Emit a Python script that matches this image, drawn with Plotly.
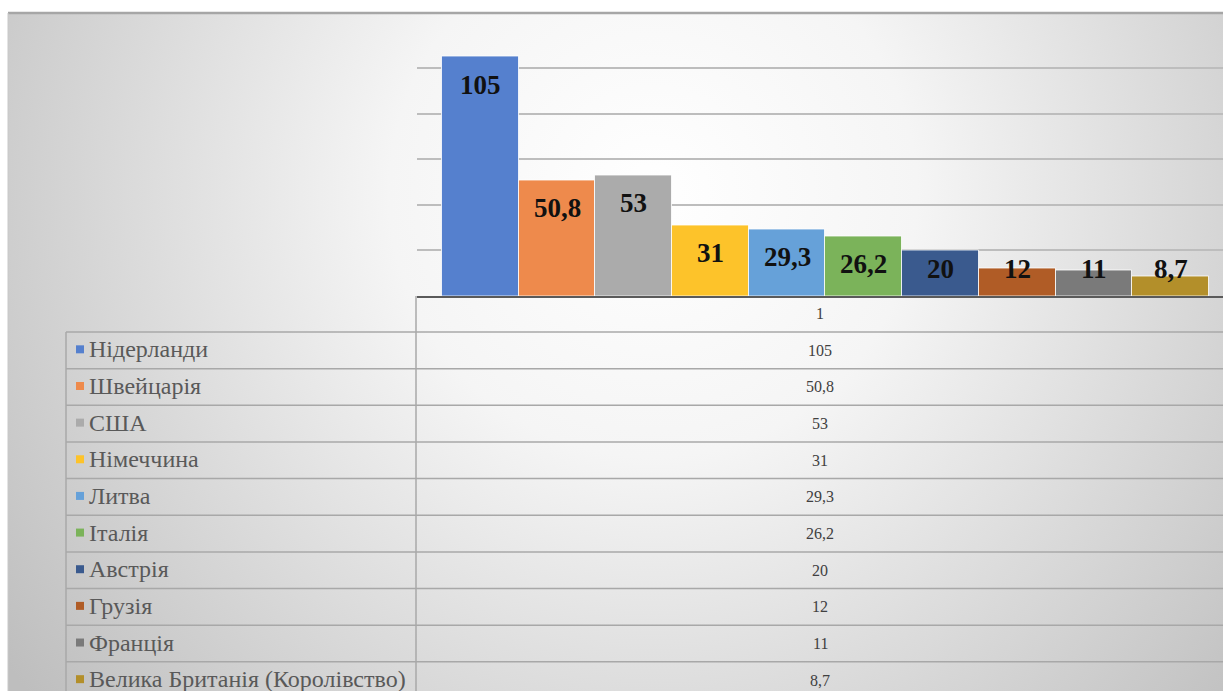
import base64
import plotly.graph_objects as go

# ---- data ----
countries = ["Нідерланди", "Швейцарія", "США", "Німеччина", "Литва",
             "Італія", "Австрія", "Грузія", "Франція",
             "Велика Британія (Королівство)"]
values = [105, 50.8, 53, 31, 29.3, 26.2, 20, 12, 11, 8.7]
colors = ["#5580CE", "#EE8A4C", "#ABABAB", "#FDC32A", "#66A1D9",
          "#7BB35A", "#3A5A8E", "#B05C26", "#7A7A7A", "#B38F2A"]
category_label = "1"

W, H = 1223, 691


def px(x):
    return x / W


def py(y):
    return 1 - y / H


def fmt(v):
    return f"{v:g}".replace(".", ",")


fig = go.Figure()
fig.add_trace(go.Bar(
    x=list(range(len(values))), y=values,
    marker=dict(color=colors, line=dict(color="rgba(255,255,255,0.8)", width=1)),
    width=1.0, showlegend=False, hoverinfo="skip",
))

# background radial gradient (chart area)
svg = f'''<svg xmlns="http://www.w3.org/2000/svg" width="1215" height="678" viewBox="0 0 1215 678">
<defs><radialGradient id="g" gradientUnits="userSpaceOnUse" cx="645" cy="180" r="800">
<stop offset="0" stop-color="#ffffff"/><stop offset="0.33" stop-color="#f5f5f5"/>
<stop offset="1" stop-color="#bebebe"/></radialGradient></defs>
<rect x="0" y="0" width="1215" height="678" fill="url(#g)"/></svg>'''
src = "data:image/svg+xml;base64," + base64.b64encode(svg.encode()).decode()

shapes = []
annotations = []

# chart area top border and left edge
shapes.append(dict(type="line", xref="paper", yref="paper", x0=px(8), x1=1,
                   y0=py(13), y1=py(13), line=dict(color="#a6a6a6", width=2.5)))
shapes.append(dict(type="line", xref="paper", yref="paper", x0=px(8), x1=px(8),
                   y0=py(13), y1=0, line=dict(color="#c8c8c8", width=1)))

# data labels on bars
for i, v in enumerate(values):
    annotations.append(dict(x=i, y=max(v - 12.3, 12), xref="x", yref="y",
                            text=f"<b>{fmt(v)}</b>", showarrow=False,
                            font=dict(family="Liberation Serif", size=27, color="#111111"),
                            xanchor="center", yanchor="middle"))

# data table
row_h = 36.65
table_top = 332
grid_col = "#a8a8a8"
# vertical lines
shapes.append(dict(type="line", xref="paper", yref="paper", x0=px(416), x1=px(416),
                   y0=py(296), y1=0, line=dict(color=grid_col, width=1.5)))
shapes.append(dict(type="line", xref="paper", yref="paper", x0=px(66), x1=px(66),
                   y0=py(table_top), y1=0, line=dict(color=grid_col, width=1.5)))
for k in range(len(values)):
    yy = table_top + k * row_h
    shapes.append(dict(type="line", xref="paper", yref="paper", x0=px(66), x1=1,
                       y0=py(yy), y1=py(yy), line=dict(color=grid_col, width=1.5)))

# header row
annotations.append(dict(x=px(820), y=py(314), xref="paper", yref="paper",
                        text=category_label, showarrow=False,
                        font=dict(family="Liberation Serif", size=16, color="#404040"),
                        xanchor="center", yanchor="middle"))
for i, (c, v, col) in enumerate(zip(countries, values, colors)):
    cy = table_top + (i + 0.5) * row_h
    shapes.append(dict(type="rect", xref="paper", yref="paper",
                       x0=px(76), x1=px(84), y0=py(cy - 5), y1=py(cy + 3),
                       fillcolor=col, line=dict(width=0)))
    annotations.append(dict(x=px(87), y=py(cy - 1), xref="paper", yref="paper",
                            text=c, showarrow=False,
                            font=dict(family="Liberation Serif", size=24, color="#595959"),
                            xanchor="left", yanchor="middle"))
    annotations.append(dict(x=px(820), y=py(cy), xref="paper", yref="paper",
                            text=fmt(v), showarrow=False,
                            font=dict(family="Liberation Serif", size=16, color="#404040"),
                            xanchor="center", yanchor="middle"))

fig.update_layout(
    width=W, height=H,
    margin=dict(l=0, r=0, t=0, b=0),
    paper_bgcolor="white",
    plot_bgcolor="rgba(0,0,0,0)",
    bargap=0,
    xaxis=dict(domain=[px(417), 1], range=[-0.826, 9.683], showticklabels=False,
               ticks="", showgrid=False, zeroline=False, showline=True,
               linecolor="#5a5a5a", linewidth=2),
    yaxis=dict(domain=[py(296), py(22.5)], range=[0, 120], dtick=20,
               showticklabels=False, ticks="", showgrid=True,
               gridcolor="#bdbdbd", gridwidth=1.5, zeroline=False),
    images=[dict(source=src, xref="paper", yref="paper", x=px(8), y=py(13),
                 sizex=1 - px(8), sizey=py(13), sizing="stretch",
                 xanchor="left", yanchor="top", layer="below")],
    shapes=shapes,
    annotations=annotations,
)

fig.write_html("out.html", config={"displayModeBar": False},
               post_script="document.body.style.margin='0';document.body.style.overflow='hidden';")
